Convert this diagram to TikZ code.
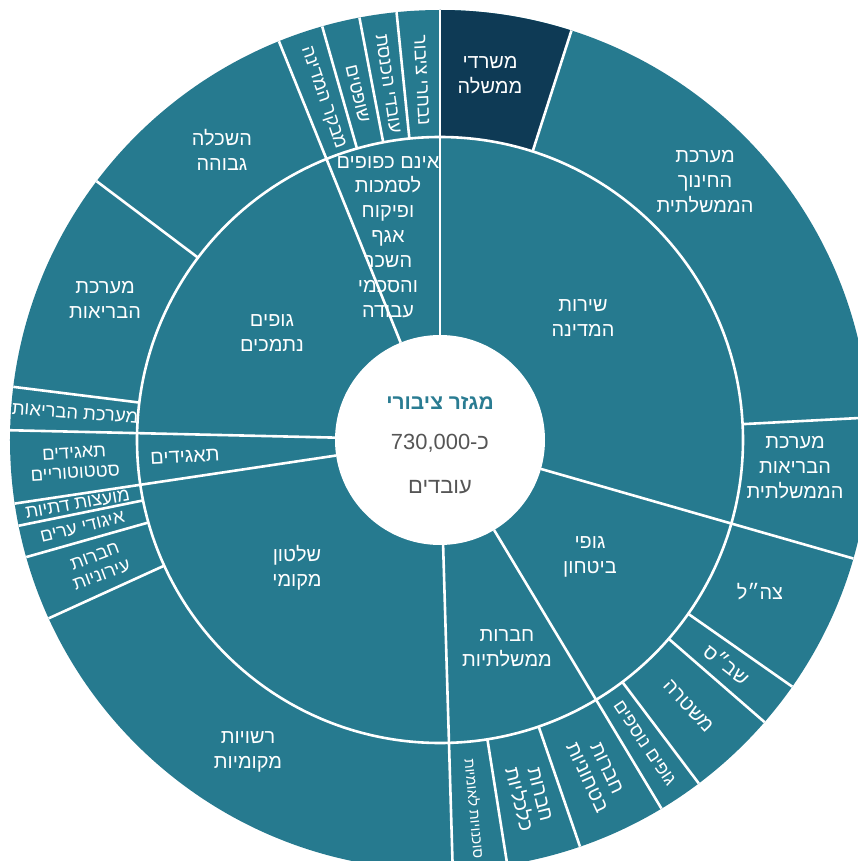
\documentclass[tikz,border=0pt]{standalone}
\usepackage{fontspec}
\usepackage{tikz}
\newfontfamily\hebfont[Script=Hebrew]{Liberation Sans}
\TeXXeTstate=1
\newcommand{\rtl}[1]{\beginR #1\endR}
\definecolor{sectorteal}{HTML}{267A8F}
\definecolor{sectordark}{HTML}{0E3A55}
\definecolor{titleteal}{HTML}{2A7C92}
\definecolor{numgray}{HTML}{555555}

\tikzset{
  sepline/.style={white, line width=2.6bp},
  lbl/.style={text=white, align=center, inner sep=0pt,
    font=\hebfont\fontsize{20}{25}\selectfont},
  smalllbl/.style={lbl, font=\hebfont\fontsize{18.5}{20}\selectfont},
  radiallbl/.style={lbl, font=\hebfont\fontsize{20}{22}\selectfont},
  centerlbl/.style={inner sep=0pt, font=\hebfont\fontsize{22}{24}\selectfont},
}

\begin{document}
\begin{tikzpicture}[x=1bp,y=1bp]
                \useasboundingbox (-440,-421) rectangle (418,440);
                \clip (-440,-421) rectangle (418,440);

                % rings
                \fill[sectorteal] (0,0) circle[radius=430];
                \fill[sectordark] (72.2:303) -- (72.2:430)
                    arc[start angle=72.2, end angle=90, radius=430]
                    -- (90:303) arc[start angle=90, end angle=72.2, radius=303] -- cycle;
                \draw[sepline] (0,0) circle[radius=303];

                % borders between the groups
                \foreach \a in {90,112,178.7,188.5,-88.3,-59,-16}
                    \draw[sepline] (\a:105) -- (\a:430);
                % borders in the outer ring
                \foreach \a in {95.8,100.8,105.9,143,172.9,191.5,195.8,204.5,
                                -81,-71,-53,-41,-35,3,72.2}
                    \draw[sepline] (\a:303) -- (\a:430);

                \fill[white] (0,0) circle[radius=105];

                % centre
                \node[centerlbl, text=titleteal, font=\hebfont\bfseries\fontsize{21}{24}\selectfont]
                    (title) at (0,37) {\rtl{מגזר ציבורי}};
                \node[centerlbl, text=numgray] (count) at (0,-3)
                    {\mbox{730,000}\mbox{-}\mbox{כ}};
                \node[centerlbl, text=numgray] (workers) at (0,-47) {עובדים};

                % middle ring
                \node[lbl] (statesrv) at (143,122) {\rtl{שירות}\\\rtl{המדינה}};
                \node[lbl] (security) at (150,-117) {\rtl{גופי}\\\rtl{ביטחון}};
                \node[lbl] (govcomp) at (67,-208) {\rtl{חברות}\\\rtl{ממשלתיות}};
                \node[lbl] (localgov) at (-143,-128) {\rtl{שלטון}\\\rtl{מקומי}};
                \node[lbl, rotate=3] (corps) at (-255,-17) {תאגידים};
                \node[lbl] (funded) at (-168,107) {\rtl{גופים}\\\rtl{נתמכים}};
                \node[lbl] (exempt) at (-52,203)
                    {\rtl{אינם כפופים}\\\rtl{לסמכות}\\\rtl{ופיקוח}\\\rtl{אגף}\\\rtl{השכר}\\\rtl{והסכמי}\\\rtl{עבודה}};

                % outer ring
                \node[lbl] (ministries) at (50,365) {\rtl{משרדי}\\\rtl{ממשלה}};
                \node[lbl] (education) at (265,258) {\rtl{מערכת}\\\rtl{החינוך}\\\rtl{הממשלתית}};
                \node[lbl] (govhealth) at (355,-28) {\rtl{מערכת}\\\rtl{הבריאות}\\\rtl{הממשלתית}};
                \node[lbl] (idf) at (320,-152) {צה״ל};
                \node[radiallbl, rotate=-38] (prisons) at (-38:364) {שב״ס};
                \node[radiallbl, rotate=-47] (police) at (-47:364) {משטרה};
                \node[smalllbl, rotate=-56] (othersec) at (-56:366) {\rtl{גופים נוספים}};
                \node[radiallbl, rotate=-65] (defcomp) at (-64.8:368) {\rtl{חברות}\\\rtl{בטחוניות}};
                \node[radiallbl, rotate=-76] (econcomp) at (-76:368) {\rtl{חברות}\\\rtl{כלכליות}};
                \node[radiallbl, rotate=-84.6, font=\hebfont\fontsize{14.5}{16}\selectfont]
                    (agencies) at (-84.6:370) {\rtl{סוכנויות לאומיות}};
                \node[lbl] (localauth) at (-192,-312) {\rtl{רשויות}\\\rtl{מקומיות}};
                \node[smalllbl, rotate=20.2] (citycomp) at (200.2:364) {\rtl{חברות}\\\rtl{עירוניות}};
                \node[smalllbl, rotate=13.7] (cityunions) at (193.7:368) {\rtl{איגודי ערים}};
                \node[smalllbl, rotate=10] (religious) at (190:368) {\rtl{מועצות דתיות}};
                \node[smalllbl, rotate=3.6] (statutory) at (183.6:366) {\rtl{תאגידים}\\\rtl{סטטוטוריים}};
                \node[smalllbl, rotate=-4.2] (health) at (175.8:366) {\rtl{מערכת הבריאות}};
                \node[lbl] (healthsys) at (-335,140) {\rtl{מערכת}\\\rtl{הבריאות}};
                \node[lbl] (higheredu) at (-218,290) {\rtl{השכלה}\\\rtl{גבוהה}};
                \node[smalllbl, rotate=-71] (comptroller) at (108.9:362) {\rtl{מבקר המדינה}};
                \node[smalllbl, rotate=-76.6] (judges) at (103.4:356) {שופטים};
                \node[smalllbl, rotate=-81.7] (knesset) at (98.3:360) {\rtl{עובדי הכנסת}};
                \node[smalllbl, rotate=-87.1] (elected) at (92.9:360) {\rtl{נבחרי ציבור}};
\end{tikzpicture}
\end{document}
